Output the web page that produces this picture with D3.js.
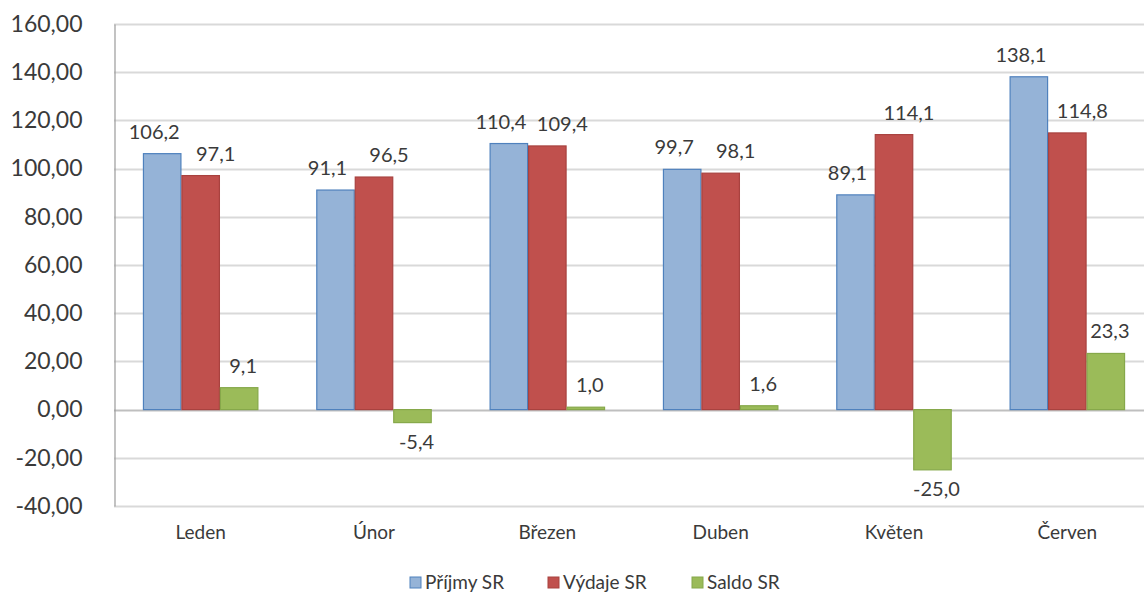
<!DOCTYPE html>
<html>
<head>
<meta charset="utf-8">
<script src="https://cdn.jsdelivr.net/npm/d3@7"></script>
<style>
  html, body { margin: 0; padding: 0; background: #fff; }
  svg { display: block; font-family: Lato, "Open Sans", sans-serif; }
</style>
</head>
<body>
<svg id="chart" width="1144" height="594"></svg>
<script>
// Monthly state budget figures (mld. Kč)
const months = ["Leden", "Únor", "Březen", "Duben", "Květen", "Červen"];
const seriesNames = ["Příjmy SR", "Výdaje SR", "Saldo SR"];
const prijmy = [106.2, 91.1, 110.4, 99.7, 89.1, 138.1];
const vydaje = [97.1, 96.5, 109.4, 98.1, 114.1, 114.8];
const saldo = [9.1, -5.4, 1.0, 1.6, -25.0, 23.3];
const yTicks = [-40, -20, 0, 20, 40, 60, 80, 100, 120, 140, 160];

const fills = ["#95b3d7", "#c0504d", "#9bbb59"];
const strokes = ["#4f81bd", "#a8423f", "#86a84a"];
const labelShift = [-8, 15, 4];   // horizontal nudge of value labels per series
const textColor = "#3a3a3a";

const values = [prijmy, vydaje, saldo];
const rows = [];
months.forEach((m, i) => {
  seriesNames.forEach((s, j) => rows.push({ month: m, series: s, si: j, value: values[j][i] }));
});

const svg = d3.select("#chart");
// Czech number format: decimal comma, plain hyphen for negatives
const fmt = v => d3.format(".1f")(v).replace(".", ",").replace("\u2212", "-");
const fmtTick = v => d3.format(".2f")(v).replace(".", ",").replace("\u2212", "-");

const x0 = d3.scaleBand().domain(months).range([114, 1154]).paddingInner(0.334).paddingOuter(0.167);
const x1 = d3.scaleBand().domain(seriesNames).range([0, x0.bandwidth()]);
const y = d3.scaleLinear().domain([-40, 160]).range([506, 24]);

// Horizontal gridlines
svg.append("g")
  .selectAll("line")
  .data(yTicks)
  .join("line")
  .attr("x1", 114).attr("x2", 1144)
  .attr("y1", d => Math.round(y(d)) + 0.5).attr("y2", d => Math.round(y(d)) + 0.5)
  .attr("stroke", d => d === 0 ? "#bfbfbf" : "#d9d9d9")
  .attr("stroke-width", 2);

// Y axis
const yAxis = svg.append("g")
  .attr("transform", "translate(114.5,0)")
  .call(d3.axisLeft(y).tickValues(yTicks).tickFormat(fmtTick).tickSize(0).tickPadding(8));
yAxis.select(".domain").attr("stroke", "#9a9a9a").attr("stroke-width", 1.2);
yAxis.selectAll("text")
  .attr("fill", textColor)
  .style("font-size", "23px")
  .style("font-family", "Lato, 'Open Sans', sans-serif")
  .attr("x", -32);

// Bars
svg.append("g")
  .selectAll("rect")
  .data(rows)
  .join("rect")
  .attr("x", d => x0(d.month) + x1(d.series) + 0.5)
  .attr("width", x1.bandwidth() - 1)
  .attr("y", d => y(Math.max(0, d.value)))
  .attr("height", d => Math.abs(y(d.value) - y(0)))
  .attr("fill", d => fills[d.si])
  .attr("stroke", d => strokes[d.si])
  .attr("stroke-width", 1.2);

// Value labels
svg.append("g")
  .selectAll("text")
  .data(rows)
  .join("text")
  .attr("x", d => x0(d.month) + x1(d.series) + x1.bandwidth() / 2 + labelShift[d.si])
  .attr("y", d => d.value >= 0 ? y(d.value) - 15 : y(d.value) + 26)
  .attr("text-anchor", "middle")
  .attr("fill", textColor)
  .style("font-size", "20px")
  .text(d => fmt(d.value));

// Category labels
svg.append("g")
  .selectAll("text")
  .data(months)
  .join("text")
  .attr("x", d => x0(d) + x0.bandwidth() / 2)
  .attr("y", 539)
  .attr("text-anchor", "middle")
  .attr("fill", textColor)
  .style("font-size", "19px")
  .text(d => d);

// Legend
const legendX = [410, 548, 692];
const legend = svg.append("g")
  .selectAll("g")
  .data(seriesNames)
  .join("g")
  .attr("transform", (d, i) => `translate(${legendX[i]},577)`);
legend.append("rect")
  .attr("width", 11).attr("height", 11)
  .attr("fill", (d, i) => fills[i])
  .attr("stroke", (d, i) => strokes[i]);
legend.append("text")
  .attr("x", 15).attr("y", 12)
  .attr("fill", textColor)
  .style("font-size", "19px")
  .text(d => d);
</script>
</body>
</html>
